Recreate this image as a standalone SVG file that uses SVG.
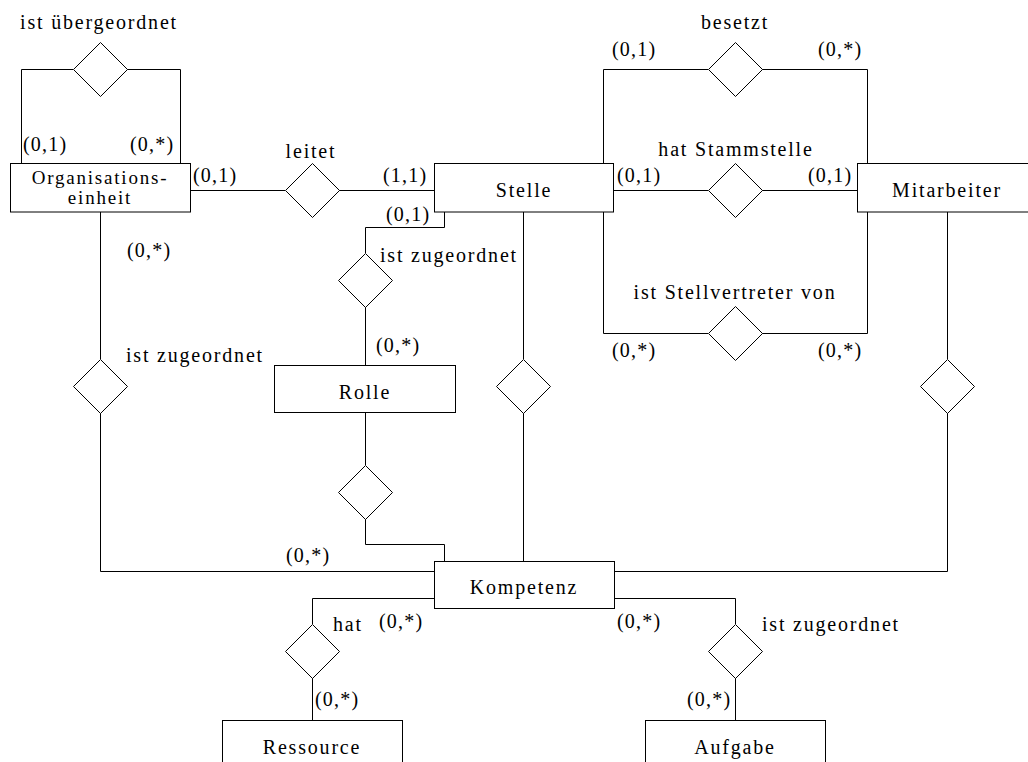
<svg xmlns="http://www.w3.org/2000/svg" width="1028" height="762" viewBox="0 0 1028 762">
<style>
  .ent rect { fill: #fff; stroke: #000; stroke-width: 1; }
  .rel polygon { fill: #fff; stroke: #000; stroke-width: 1; }
  #connectors polyline, #connectors line { fill: none; stroke: #000; stroke-width: 1; }
  text { font-family: 'Liberation Serif', 'Times New Roman', serif; font-size: 20px; fill: #000; }
  .w { letter-spacing: 1.8px; }
  .c { letter-spacing: 1.2px; }
  .m { text-anchor: middle; }
  .s { font-size: 19px; }
</style>
<rect width="1028" height="762" fill="#fff"/>

<g id="connectors">
  <polyline points="21.5,163 21.5,69.5 73,69.5"/>
  <polyline points="127,69.5 180.5,69.5 180.5,163"/>
  <line x1="190" y1="190.5" x2="285" y2="190.5"/>
  <line x1="339" y1="190.5" x2="434" y2="190.5"/>
  <polyline points="603.5,163 603.5,69.5 708,69.5"/>
  <polyline points="762,69.5 867.5,69.5 867.5,163"/>
  <line x1="613" y1="190.5" x2="708" y2="190.5"/>
  <line x1="762" y1="190.5" x2="857" y2="190.5"/>
  <polyline points="603.5,212 603.5,333.5 708,333.5"/>
  <polyline points="762,333.5 867.5,333.5 867.5,212"/>
  <polyline points="444.5,212 444.5,227.5 365.5,227.5 365.5,253"/>
  <line x1="365.5" y1="307" x2="365.5" y2="365"/>
  <line x1="365.5" y1="412" x2="365.5" y2="465"/>
  <polyline points="365.5,519 365.5,544.5 444.5,544.5 444.5,561"/>
  <line x1="523.5" y1="212" x2="523.5" y2="359"/>
  <line x1="523.5" y1="413" x2="523.5" y2="561"/>
  <line x1="947.5" y1="212" x2="947.5" y2="359"/>
  <polyline points="947.5,413 947.5,571.5 614,571.5"/>
  <line x1="100.5" y1="212" x2="100.5" y2="359"/>
  <polyline points="100.5,413 100.5,571.5 434,571.5"/>
  <polyline points="434,598.5 312.5,598.5 312.5,624"/>
  <line x1="312.5" y1="678" x2="312.5" y2="720"/>
  <polyline points="614,598.5 735.5,598.5 735.5,624"/>
  <line x1="735.5" y1="678" x2="735.5" y2="720"/>
</g>

<g id="org" class="ent">
  <rect x="10.5" y="163.5" width="180" height="48.5"/>
  <text class="w m s" x="100" y="184">Organisations-</text>
  <text class="w m s" x="100" y="204">einheit</text>
</g>
<g id="stelle" class="ent">
  <rect x="434.5" y="163.5" width="179" height="48.5"/>
  <text class="w m" x="524" y="197">Stelle</text>
</g>
<g id="mitarbeiter" class="ent">
  <rect x="857.5" y="163.5" width="180" height="48.5"/>
  <text class="w m" x="947" y="197">Mitarbeiter</text>
</g>
<g id="rolle" class="ent">
  <rect x="274.5" y="365.5" width="181" height="47"/>
  <text class="w m" x="365" y="399">Rolle</text>
</g>
<g id="kompetenz" class="ent">
  <rect x="434.5" y="561.5" width="180" height="47"/>
  <text class="w m" x="524" y="594">Kompetenz</text>
</g>
<g id="ressource" class="ent">
  <rect x="222.5" y="720.5" width="180" height="50"/>
  <text class="w m" x="312" y="754">Ressource</text>
</g>
<g id="aufgabe" class="ent">
  <rect x="645.5" y="720.5" width="180" height="50"/>
  <text class="w m" x="735" y="754">Aufgabe</text>
</g>

<g id="rel-uebergeordnet" class="rel">
  <polygon points="100.5,42.5 127.5,69.5 100.5,96.5 73.5,69.5"/>
  <text class="w m" x="99" y="29">ist übergeordnet</text>
  <text class="c" x="23" y="151">(0,1)</text>
  <text class="c" x="130" y="151">(0,*)</text>
</g>
<g id="rel-leitet" class="rel">
  <polygon points="312.5,163.5 339.5,190.5 312.5,217.5 285.5,190.5"/>
  <text class="w m" x="311" y="158">leitet</text>
  <text class="c" x="193" y="182">(0,1)</text>
  <text class="c" x="383" y="182">(1,1)</text>
</g>
<g id="rel-besetzt" class="rel">
  <polygon points="735.5,42.5 762.5,69.5 735.5,96.5 708.5,69.5"/>
  <text class="w m" x="735" y="29">besetzt</text>
  <text class="c" x="612" y="56">(0,1)</text>
  <text class="c" x="818" y="56">(0,*)</text>
</g>
<g id="rel-stammstelle" class="rel">
  <polygon points="735.5,163.5 762.5,190.5 735.5,217.5 708.5,190.5"/>
  <text class="w m" x="736" y="156">hat Stammstelle</text>
  <text class="c" x="617" y="182">(0,1)</text>
  <text class="c" x="808" y="182">(0,1)</text>
</g>
<g id="rel-stellvertreter" class="rel">
  <polygon points="735.5,306.5 762.5,333.5 735.5,360.5 708.5,333.5"/>
  <text class="w m" x="735" y="299">ist Stellvertreter von</text>
  <text class="c" x="612" y="357">(0,*)</text>
  <text class="c" x="818" y="357">(0,*)</text>
</g>
<g id="rel-stelle-rolle" class="rel">
  <polygon points="365.5,253.5 392.5,280.5 365.5,307.5 338.5,280.5"/>
  <text class="w" x="380" y="262">ist zugeordnet</text>
  <text class="c" x="386" y="221">(0,1)</text>
  <text class="c" x="376" y="352">(0,*)</text>
</g>
<g id="rel-rolle-kompetenz" class="rel">
  <polygon points="365.5,465.5 392.5,492.5 365.5,519.5 338.5,492.5"/>
</g>
<g id="rel-stelle-kompetenz" class="rel">
  <polygon points="523.5,359.5 550.5,386.5 523.5,413.5 496.5,386.5"/>
</g>
<g id="rel-mitarbeiter-kompetenz" class="rel">
  <polygon points="947.5,359.5 974.5,386.5 947.5,413.5 920.5,386.5"/>
</g>
<g id="rel-org-kompetenz" class="rel">
  <polygon points="100.5,359.5 127.5,386.5 100.5,413.5 73.5,386.5"/>
  <text class="w" x="126" y="362">ist zugeordnet</text>
  <text class="c" x="127" y="257">(0,*)</text>
  <text class="c" x="286" y="562">(0,*)</text>
</g>
<g id="rel-hat" class="rel">
  <polygon points="312.5,624.5 339.5,651.5 312.5,678.5 285.5,651.5"/>
  <text class="w" x="333" y="631">hat</text>
  <text class="c" x="379" y="628">(0,*)</text>
  <text class="c" x="315" y="706">(0,*)</text>
</g>
<g id="rel-aufgabe" class="rel">
  <polygon points="735.5,624.5 762.5,651.5 735.5,678.5 708.5,651.5"/>
  <text class="w" x="762" y="631">ist zugeordnet</text>
  <text class="c" x="617" y="628">(0,*)</text>
  <text class="c" x="687" y="706">(0,*)</text>
</g>
</svg>
